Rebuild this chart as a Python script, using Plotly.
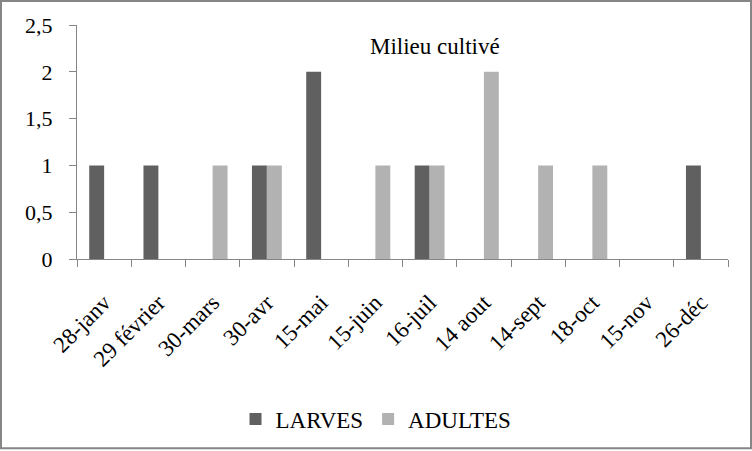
import plotly.graph_objects as go

categories = ["28-janv", "29 février", "30-mars", "30-avr", "15-mai", "15-juin",
              "16-juil", "14 aout", "14-sept", "18-oct", "15-nov", "26-déc"]
larves = [1, 1, 0, 1, 2, 0, 1, 0, 0, 0, 0, 1]
adultes = [0, 0, 1, 1, 0, 1, 1, 2, 1, 1, 0, 0]

W, H = 752, 451
L, R, T, B = 77, 24, 25, 191
pw, ph = W - L - R, H - T - B

def px_x(x):
    return (x - L) / pw

def px_y(y):
    return (H - B - y) / ph

font = "Liberation Serif"

fig = go.Figure()
fig.add_trace(go.Bar(x=categories, y=larves, name="LARVES",
                     marker=dict(color="#606060", line=dict(width=0))))
fig.add_trace(go.Bar(x=categories, y=adultes, name="ADULTES",
                     marker=dict(color="#b2b2b2", line=dict(width=0))))

fig.update_layout(
    width=W, height=H,
    margin=dict(l=L, r=R, t=T, b=B, pad=0),
    paper_bgcolor="white", plot_bgcolor="white",
    barmode="group", bargap=0.45, bargroupgap=0,
    separators=", ",
    font=dict(family=font, color="black", size=22),
    showlegend=True,
    legend=dict(orientation="h", x=px_x(376), xanchor="center",
                y=px_y(419), yanchor="middle",
                font=dict(family=font, size=23),
                itemwidth=30, tracegroupgap=0),
    xaxis=dict(showline=True, linecolor="#868686", linewidth=1,
               ticks="outside", ticklen=7, tickcolor="#868686",
               tickson="boundaries", tickangle=-45, showgrid=False,
               ticklabelstandoff=20,
               tickfont=dict(family=font, size=23)),
    yaxis=dict(range=[0, 2.5], dtick=0.5, showline=True, linecolor="#868686",
               linewidth=1, ticks="outside", ticklen=7, tickcolor="#868686",
               showgrid=False, zeroline=False, ticklabelstandoff=12,
               tickfont=dict(family=font, size=22)),
    annotations=[dict(text="Milieu cultivé", x=px_x(435), y=px_y(47),
                      xref="paper", yref="paper", showarrow=False,
                      xanchor="center", yanchor="middle",
                      font=dict(family=font, size=23))],
    shapes=[dict(type="rect", xref="paper", yref="paper",
                 x0=px_x(1), x1=px_x(W - 1), y0=px_y(H - 1), y1=px_y(1),
                 line=dict(color="#868686", width=2), layer="above")],
)

fig.write_html("out.html", config={"displayModeBar": False},
               post_script="document.body.style.margin='0';document.body.style.overflow='hidden';")
